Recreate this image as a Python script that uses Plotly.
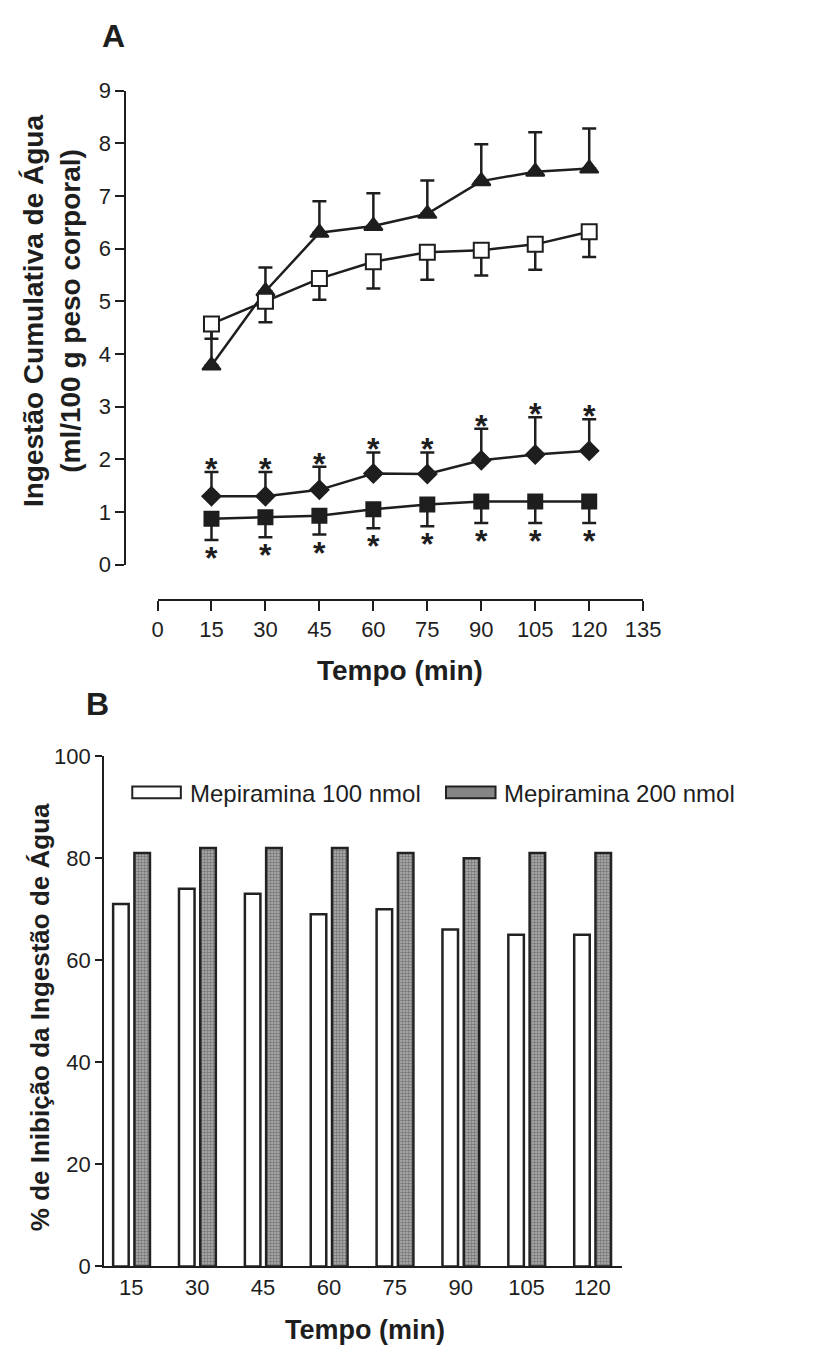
import plotly.graph_objects as go

# ---------------- data ----------------
tempo = [15, 30, 45, 60, 75, 90, 105, 120]
salina = [4.57, 5.00, 5.43, 5.75, 5.93, 5.97, 6.08, 6.32]
salina_epm = [0.28, 0.40, 0.40, 0.51, 0.52, 0.48, 0.48, 0.48]
mep25 = [3.78, 5.19, 6.30, 6.43, 6.66, 7.28, 7.46, 7.52]
mep25_epm = [0.90, 0.45, 0.60, 0.62, 0.63, 0.70, 0.75, 0.76]
mep100 = [1.30, 1.30, 1.42, 1.73, 1.72, 1.98, 2.09, 2.16]
mep100_epm = [0.46, 0.46, 0.44, 0.40, 0.41, 0.60, 0.71, 0.60]
mep200 = [0.87, 0.90, 0.93, 1.05, 1.14, 1.20, 1.20, 1.20]
mep200_epm = [0.40, 0.38, 0.36, 0.36, 0.41, 0.41, 0.41, 0.41]

inib100 = [71, 74, 73, 69, 70, 66, 65, 65]
inib200 = [81, 82, 82, 82, 81, 80, 81, 81]

xticks_a = [0, 15, 30, 45, 60, 75, 90, 105, 120, 135]

W, H = 836, 1358
def px(x): return x / W
def py(y): return 1 - y / H

INK = "#1e1e1e"
FONT = "Liberation Sans, Arial, sans-serif"

fig = go.Figure()

def line_trace(y, err, up, symbol, size, fill):
    zeros = [0] * len(err)
    return go.Scatter(
        x=tempo, y=y, mode="lines+markers", xaxis="x", yaxis="y",
        line=dict(color=INK, width=2.5),
        marker=dict(symbol=symbol, size=size, color=fill,
                    line=dict(color=INK, width=2)),
        error_y=dict(type="data", symmetric=False,
                     array=err if up else zeros,
                     arrayminus=zeros if up else err,
                     width=7, thickness=2.5, color=INK),
        cliponaxis=False, showlegend=False)

fig.add_trace(line_trace(mep25, mep25_epm, True, "triangle-up", 16, INK))
fig.add_trace(line_trace(salina, salina_epm, False, "square", 15, "white"))
fig.add_trace(line_trace(mep100, mep100_epm, True, "diamond", 14, INK))
fig.add_trace(line_trace(mep200, mep200_epm, False, "square", 14, INK))

# significance stars (annotations anchored on the error-bar ends)
for t, v, e in zip(tempo, mep100, mep100_epm):
    fig.add_annotation(x=t, y=v + e, xref="x", yref="y", text="<b>*</b>",
                       showarrow=False, yanchor="middle", yshift=3,
                       font=dict(family=FONT, size=32, color=INK))
for t, v, e in zip(tempo, mep200, mep200_epm):
    fig.add_annotation(x=t, y=v - e, xref="x", yref="y", text="<b>*</b>",
                       showarrow=False, yanchor="middle", yshift=-18,
                       font=dict(family=FONT, size=32, color=INK))

# ---------------- panel B bars ----------------
pxmin = 67.8 / 15.0
fig.add_trace(go.Bar(
    x=tempo, y=inib100, xaxis="x2", yaxis="y2", name="Mepiramina 100 nmol",
    width=16 / pxmin, offset=-18.7 / pxmin,
    marker=dict(color="white", line=dict(color="#222222", width=2.5)),
    showlegend=False))
fig.add_trace(go.Bar(
    x=tempo, y=inib200, xaxis="x2", yaxis="y2", name="Mepiramina 200 nmol",
    width=16 / pxmin, offset=3.2 / pxmin,
    marker=dict(color="#9a9a9a", line=dict(color="#222222", width=2.5),
                pattern=dict(shape="+", size=3, solidity=0.45,
                             fgcolor="#4a4a4a", bgcolor="#a6a6a6")),
    showlegend=False))

axis_common = dict(showgrid=False, zeroline=False, showline=True,
                   linecolor=INK, linewidth=2, tickcolor=INK, tickwidth=2,
                   tickfont=dict(family=FONT, size=22, color=INK))

fig.update_layout(
    width=W, height=H, margin=dict(l=0, r=0, t=0, b=0),
    paper_bgcolor="white", plot_bgcolor="rgba(0,0,0,0)",
    barmode="overlay",
    xaxis=dict(axis_common, domain=[px(156), px(656)], range=[0, 135],
               anchor="free", position=py(599), tickvals=xticks_a,
               ticks="outside", ticklen=10),
    yaxis=dict(axis_common, domain=[py(563), py(80)], range=[0, 9],
               anchor="free", position=px(123), dtick=1,
               ticks="outside", ticklen=9),
    xaxis2=dict(axis_common, domain=[px(101), px(634)],
                range=[15 - 28 / pxmin, 120 + 30.3 / pxmin],
                anchor="y2", tickvals=tempo, ticks=""),
    yaxis2=dict(axis_common, domain=[py(1278), py(758)], range=[0, 100],
                anchor="x2", dtick=20, ticks="outside", ticklen=7),
)

def ann(x, y, text, size, bold=True, angle=0, xanchor="center"):
    fig.add_annotation(x=px(x), y=py(y), xref="paper", yref="paper",
                       text=f"<b>{text}</b>" if bold else text,
                       showarrow=False, textangle=angle, xanchor=xanchor,
                       yanchor="middle",
                       font=dict(family=FONT, size=size, color=INK))

ann(111, 24, "A", 32)
ann(94, 705, "B", 32)
ann(47, 305, "Ingestão Cumulativa de Água<br>(ml/100 g peso corporal)", 28, angle=-90)
ann(406, 671, "Tempo (min)", 28)
ann(35, 1024, "% de Inibição da Ingestão de Água", 26, angle=-90)
ann(370, 1343, "Tempo (min)", 27)

# legend (manual)
fig.add_shape(type="rect", xref="paper", yref="paper",
              x0=px(130), x1=px(180), y0=py(801), y1=py(789),
              line=dict(color="#222222", width=2), fillcolor="white")
fig.add_shape(type="rect", xref="paper", yref="paper",
              x0=px(453), x1=px(504), y0=py(801), y1=py(789),
              line=dict(color="#222222", width=2), fillcolor="#858585")
ann(187, 796, "Mepiramina 100 nmol", 24, bold=False, xanchor="left")
ann(511, 796, "Mepiramina 200 nmol", 24, bold=False, xanchor="left")

fig.write_html("out.html")
